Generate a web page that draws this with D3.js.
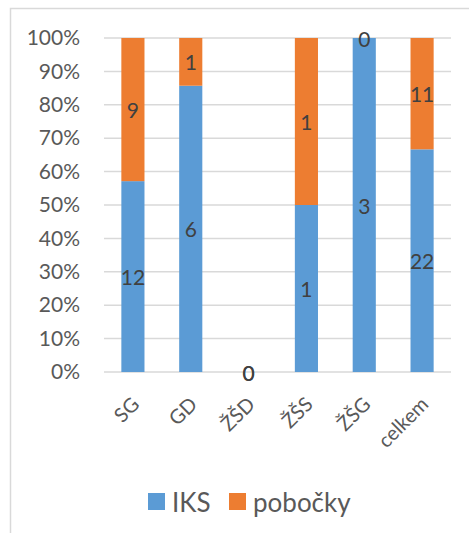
<!DOCTYPE html>
<html>
<head>
<meta charset="utf-8">
<script src="https://cdn.jsdelivr.net/npm/d3@7"></script>
<style>
  body { margin: 0; background: #fff; }
  svg { display: block; font-family: Lato, "Open Sans", sans-serif; }
</style>
</head>
<body>
<div id="chart"></div>
<script>
// data
const categories = ["SG", "GD", "ŽŠD", "ŽŠS", "ŽŠG", "celkem"];
const seriesNames = ["IKS", "pobočky"];
const iks = [12, 6, 0, 1, 3, 22];
const pobocky = [9, 1, 0, 1, 0, 11];
const yTicks = [0, 0.1, 0.2, 0.3, 0.4, 0.5, 0.6, 0.7, 0.8, 0.9, 1];
const colors = ["#5b9bd5", "#ed7d31"];

const width = 469, height = 533;
const margin = { left: 104, right: 18, top: 38, bottom: 161 };

const svg = d3.select("#chart").append("svg")
    .attr("width", width)
    .attr("height", height);

// chart frame (cut off at right/bottom like the original)
svg.append("rect")
    .attr("x", 10.5).attr("y", 8.5)
    .attr("width", width + 20).attr("height", height + 20)
    .attr("fill", "none")
    .attr("stroke", "#d9d9d9")
    .attr("stroke-width", 1.5);

const x = d3.scaleBand()
    .domain(categories)
    .range([margin.left, width - margin.right])
    .paddingInner(0.6)
    .paddingOuter(0.3);

const y = d3.scaleLinear()
    .domain([0, 1])
    .range([height - margin.bottom, margin.top]);

// gridlines
svg.append("g")
    .selectAll("line")
    .data(yTicks)
    .enter().append("line")
    .attr("x1", margin.left).attr("x2", width - margin.right)
    .attr("y1", d => y(d)).attr("y2", d => y(d))
    .attr("stroke", "#d9d9d9")
    .attr("stroke-width", 1.5);

// y axis labels
const yAxis = d3.axisLeft(y)
    .tickValues(yTicks)
    .tickFormat(d3.format(".0%"))
    .tickSize(0)
    .tickPadding(24);
const yg = svg.append("g")
    .attr("transform", `translate(${margin.left},0)`)
    .call(yAxis);
yg.select(".domain").remove();
yg.selectAll("text")
    .attr("fill", "#595959")
    .style("font-size", "21px")
    .style("font-family", "Lato, sans-serif");

// stacked percentages
const rows = categories.map((c, i) => ({ cat: c, IKS: iks[i], "pobočky": pobocky[i] }));
const stack = d3.stack().keys(seriesNames).offset(d3.stackOffsetExpand);
const layers = stack(rows);
layers.forEach(layer => layer.forEach(d => {
    if (isNaN(d[0])) d[0] = 0;
    if (isNaN(d[1])) d[1] = 0;
}));

const g = svg.append("g");
layers.forEach((layer, li) => {
    g.selectAll(null)
        .data(layer)
        .enter().append("rect")
        .attr("x", d => x(d.data.cat))
        .attr("width", x.bandwidth())
        .attr("y", d => y(d[1]))
        .attr("height", d => y(d[0]) - y(d[1]))
        .attr("fill", colors[li]);
});

// data labels
layers.forEach((layer, li) => {
    g.selectAll(null)
        .data(layer)
        .enter().append("text")
        .attr("x", d => x(d.data.cat) + x.bandwidth() / 2)
        .attr("y", d => y((d[0] + d[1]) / 2))
        .attr("text-anchor", "middle")
        .attr("dominant-baseline", "central")
        .attr("fill", "#404040")
        .style("font-size", "21px")
        .text(d => d.data[layer.key]);
});

// x axis labels, rotated
const xg = svg.append("g");
xg.selectAll("text")
    .data(categories)
    .enter().append("text")
    .attr("transform", d => `translate(${x(d) + x.bandwidth() / 2 + 2},${height - margin.bottom + 28}) rotate(-45)`)
    .attr("text-anchor", "end")
    .attr("dominant-baseline", "central")
    .attr("fill", "#595959")
    .style("font-size", "20px")
    .text(d => d);

// legend
const legend = svg.append("g").attr("transform", "translate(148,493)");
const legendX = [0, 81];
seriesNames.forEach((name, i) => {
    const item = legend.append("g").attr("transform", `translate(${legendX[i]},0)`);
    item.append("rect")
        .attr("width", 17).attr("height", 17)
        .attr("fill", colors[i]);
    item.append("text")
        .attr("x", 24).attr("y", 9)
        .attr("dominant-baseline", "central")
        .attr("fill", "#595959")
        .style("font-size", "26px")
        .text(name);
});
</script>
</body>
</html>
